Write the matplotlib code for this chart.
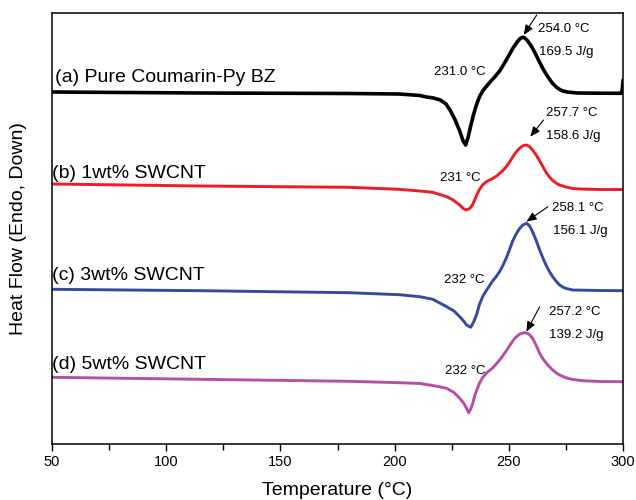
import matplotlib
matplotlib.use("Agg")
import matplotlib.pyplot as plt
from matplotlib.ticker import MultipleLocator

plt.rcParams['font.family'] = ['Liberation Sans', 'DejaVu Sans']

# DSC traces (temperature in C, heat flow in arbitrary units, offset per sample)
temp_a = [50.0, 115.0, 180.0, 202.0, 208.0, 211.0, 214.0, 217.0, 220.0, 222.5, 224.5, 226.5,
          228.5, 230.0, 231.1, 232.2, 233.3, 234.5, 235.8, 237.2, 238.7, 240.3, 242.0, 244.0,
          246.0, 248.0, 250.0, 252.0, 253.8, 255.0, 256.0, 257.0, 258.3, 259.8, 261.5, 263.2,
          265.0, 267.0, 269.0, 271.0, 273.0, 275.5, 280.0, 290.0, 299.3, 299.7, 300.0]
hf_a = [35.2, 35.1, 35.05, 35.0, 34.9, 34.85, 34.7, 34.6, 34.4, 34.0, 33.3, 32.4,
        31.3, 30.3, 29.9, 30.7, 31.8, 32.9, 33.9, 34.75, 35.35, 35.8, 36.25, 36.75,
        37.3, 38.05, 38.85, 39.65, 40.25, 40.55, 40.68, 40.6, 40.3, 39.8, 39.1, 38.3,
        37.5, 36.75, 36.1, 35.65, 35.35, 35.2, 35.1, 35.08, 35.07, 35.5, 36.4]

temp_b = [50.0, 115.0, 180.0, 202.0, 211.0, 216.7, 222.8, 225.6, 228.5, 230.0, 231.4, 232.9,
          234.2, 235.7, 237.0, 238.5, 240.3, 242.5, 244.7, 247.0, 249.0, 250.5, 251.7, 253.2,
          254.7, 256.2, 257.7, 259.0, 260.4, 262.0, 263.5, 265.0, 266.5, 268.0, 269.2, 271.0,
          272.2, 275.3, 278.0, 281.0, 290.0, 300.0]
hf_b = [26.0, 25.8, 25.67, 25.47, 25.3, 25.17, 24.73, 24.4, 23.9, 23.55, 23.4, 23.55,
        23.95, 24.75, 25.4, 25.9, 26.25, 26.5, 26.8, 27.25, 27.75, 28.25, 28.7, 29.2,
        29.57, 29.83, 29.9, 29.75, 29.4, 28.9, 28.3, 27.7, 27.1, 26.65, 26.35, 26.05,
        25.9, 25.68, 25.55, 25.5, 25.45, 25.45]

temp_c = [50.0, 115.0, 180.0, 202.0, 211.0, 216.7, 222.8, 226.0, 228.5, 230.2, 231.5, 233.3,
          234.6, 235.9, 237.2, 238.8, 240.3, 242.9, 244.5, 246.0, 247.3, 249.0, 250.4, 251.7,
          253.2, 254.7, 256.3, 257.8, 259.1, 260.4, 261.9, 263.5, 265.0, 266.5, 267.9, 269.2,
          270.8, 272.2, 274.4, 277.9, 290.0, 300.0]
hf_c = [15.47, 15.33, 15.13, 14.93, 14.73, 14.47, 13.73, 13.3, 12.73, 12.3, 11.9, 11.67,
        12.2, 12.95, 14.0, 14.85, 15.4, 16.3, 16.75, 17.25, 17.8, 18.65, 19.5, 20.3,
        21.0, 21.55, 21.93, 22.07, 21.8, 21.23, 20.4, 19.4, 18.55, 17.8, 17.2, 16.73,
        16.25, 15.9, 15.6, 15.4, 15.35, 15.33]

temp_d = [50.0, 115.0, 180.0, 202.0, 211.0, 216.7, 222.8, 226.0, 228.5, 230.2, 231.5, 232.4,
          233.3, 234.2, 235.0, 235.9, 237.2, 238.5, 240.7, 242.9, 246.0, 249.0, 251.7, 253.2,
          254.7, 256.0, 257.4, 259.0, 260.4, 261.9, 263.5, 265.0, 266.5, 267.9, 269.2, 270.8,
          272.2, 275.3, 278.0, 282.3, 290.0, 300.0]
hf_d = [6.67, 6.47, 6.27, 6.13, 6.05, 5.85, 5.57, 5.15, 4.57, 4.1, 3.57, 3.13,
        3.5, 4.07, 4.75, 5.35, 6.1, 6.65, 7.2, 7.6, 8.4, 9.35, 10.3, 10.7,
        10.98, 11.1, 11.13, 10.95, 10.57, 9.9, 9.07, 8.5, 8.05, 7.7, 7.4, 7.1,
        6.9, 6.6, 6.45, 6.33, 6.25, 6.23]

names = ['(a) Pure Coumarin-Py BZ', '(b) 1wt% SWCNT', '(c) 3wt% SWCNT', '(d) 5wt% SWCNT']
colors = ['#000000', '#ee1d23', '#3449a0', '#b64ea6']
widths = [2.6, 2.1, 2.1, 2.1]

# peak annotations: onset label, peak label, enthalpy
onset_lbl = ['231.0 °C', '231 °C', '232 °C', '232 °C']
peak_lbl = ['254.0 °C', '257.7 °C', '258.1 °C', '257.2 °C']
enth_lbl = ['169.5 J/g', '158.6 J/g', '156.1 J/g', '139.2 J/g']

fig = plt.figure(figsize=(6.36, 5.0), dpi=100)
ax = fig.add_axes([0.0818, 0.112, 0.8978, 0.862])

series = [(temp_a, hf_a), (temp_b, hf_b), (temp_c, hf_c), (temp_d, hf_d)]
for (t, h), c, w in zip(series, colors, widths):
    ax.plot(t, h, color=c, lw=w, solid_joinstyle='round', solid_capstyle='round')

# text placement (data coords)
name_pos = [(51.3, 36.65), (49.8, 27.07), (50.2, 16.8), (50.2, 7.97)]
onset_pos = [(217.1, 37.23), (220.0, 26.57), (221.5, 16.4), (221.9, 7.3)]
peak_pos = [(262.6, 41.5), (266.1, 33.07), (269.0, 23.63), (267.4, 13.23)]
enth_pos = [(263.0, 39.2), (266.4, 30.8), (269.3, 21.3), (267.8, 10.9)]
arrow_tail = [(262.2, 42.9), (265.2, 32.4), (267.1, 23.73), (263.5, 13.73)]
arrow_head = [(256.5, 40.9), (259.4, 30.73), (257.7, 22.23), (257.7, 11.23)]

for i in range(4):
    ax.text(*name_pos[i], names[i], fontsize=14, ha='left', va='center')
    ax.text(*onset_pos[i], onset_lbl[i], fontsize=9.5, ha='left', va='center')
    ax.text(*peak_pos[i], peak_lbl[i], fontsize=9.5, ha='left', va='center')
    ax.text(*enth_pos[i], enth_lbl[i], fontsize=9.5, ha='left', va='center')
    ax.annotate('', xy=arrow_head[i], xytext=arrow_tail[i],
                arrowprops=dict(arrowstyle='-|>,head_length=0.6,head_width=0.25',
                                color='black', lw=0.8, shrinkA=0, shrinkB=0))

ax.set_xlim(50, 300)
ax.set_ylim(0, 43.1)
ax.xaxis.set_major_locator(MultipleLocator(50))
ax.xaxis.set_minor_locator(MultipleLocator(25))
ax.tick_params(axis='x', which='major', direction='out', length=5, width=1.0,
               labelsize=10.5, pad=3)
ax.tick_params(axis='x', which='minor', direction='out', length=4, width=1.0)
ax.tick_params(axis='y', left=False, labelleft=False)
for s in ax.spines.values():
    s.set_linewidth(1.1)

ax.set_xlabel('Temperature (°C)', fontsize=14, labelpad=9)
ax.set_ylabel('Heat Flow (Endo, Down)', fontsize=14, labelpad=18)

fig.savefig('out.png', dpi=100)
